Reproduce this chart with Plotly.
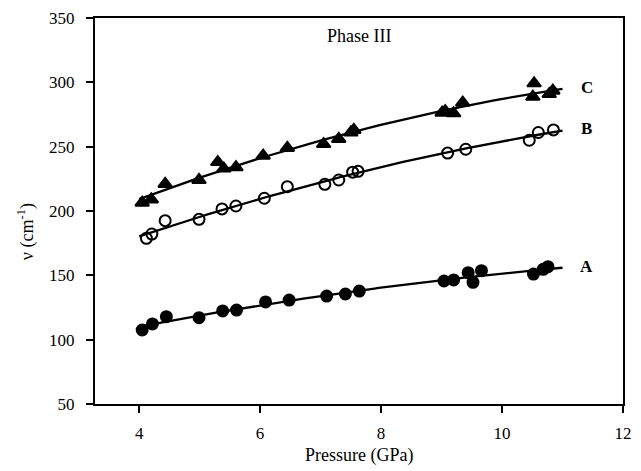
import numpy as np
import plotly.graph_objects as go

# Series A (filled circles)
a_x = [4.05, 4.22, 4.45, 4.99, 5.38, 5.61, 6.09, 6.48, 7.10, 7.41, 7.64,
       9.04, 9.20, 9.44, 9.52, 9.66, 10.52, 10.68, 10.76]
a_y = [107.5, 112.2, 117.9, 117.1, 122.3, 123.0, 129.3, 130.8, 133.9, 135.5, 137.8,
       145.6, 146.4, 152.1, 144.6, 153.6, 151.0, 154.7, 156.7]

# Series B (open circles)
b_x = [4.12, 4.21, 4.43, 4.99, 5.37, 5.60, 6.07, 6.45, 7.07, 7.30, 7.53, 7.62,
       9.10, 9.40, 10.45, 10.60, 10.85]
b_y = [178.8, 182.1, 192.5, 193.5, 201.6, 203.9, 209.9, 218.9, 220.7, 224.1, 230.2, 230.8,
       245.0, 248.0, 255.0, 261.0, 263.0]

# Series C (filled triangles)
c_x = [4.05, 4.20, 4.43, 4.99, 5.30, 5.40, 5.60, 6.05, 6.45, 7.05, 7.30, 7.50, 7.55,
       9.01, 9.06, 9.20, 9.35, 10.51, 10.53, 10.78, 10.84]
c_y = [206.5, 209.0, 221.0, 224.1, 238.0, 233.0, 234.0, 243.0, 249.0, 252.0, 256.0, 261.0, 263.0,
       276.4, 277.7, 275.9, 284.2, 288.8, 299.2, 290.9, 293.5]

series_labels = ["A", "B", "C"]
label_x = [11.4, 11.4, 11.4]
label_y = [157, 264, 296]

x_ticks = [4, 6, 8, 10, 12]
y_ticks = [50, 100, 150, 200, 250, 300, 350]

FONT = "Liberation Serif"

fig = go.Figure()

fit_x = np.linspace(4.0, 11.0, 100)
for xs, ys, sym in [(a_x, a_y, "circle"),
                    (b_x, b_y, "circle-open"),
                    (c_x, c_y, "triangle-up")]:
    coef = np.polyfit(xs, ys, 2)
    fig.add_trace(go.Scatter(x=fit_x, y=np.polyval(coef, fit_x), mode="lines",
                             line=dict(color="black", width=2.3), showlegend=False,
                             hoverinfo="skip"))
    fig.add_trace(go.Scatter(x=xs, y=ys, mode="markers", showlegend=False,
                             marker=dict(symbol=sym, size=11 if sym != "triangle-up" else 12,
                                         color="black",
                                         line=dict(color="black", width=2))))

for lab, lx, ly in zip(series_labels, label_x, label_y):
    fig.add_annotation(x=lx, y=ly, text="<b>%s</b>" % lab, showarrow=False,
                       font=dict(family=FONT, size=17, color="black"))

fig.add_annotation(x=7.63, y=336, text="Phase III", showarrow=False,
                   font=dict(family=FONT, size=18, color="black"))

# axis titles
fig.add_annotation(xref="paper", yref="paper", x=0.5, y=-(455 - 404) / 386,
                   xanchor="center", yanchor="middle", text="Pressure (GPa)",
                   showarrow=False, font=dict(family=FONT, size=18, color="black"))
fig.add_annotation(xref="paper", yref="paper", x=-(95 - 25) / 537, y=(404 - 232) / 386,
                   xanchor="center", yanchor="middle", text="ν (cm<sup>-1</sup>)",
                   textangle=-90, showarrow=False,
                   font=dict(family=FONT, size=18, color="black"))

fig.update_layout(
    width=641, height=471,
    margin=dict(l=95, r=9, t=18, b=67),
    paper_bgcolor="white", plot_bgcolor="white",
    font=dict(family=FONT, size=17, color="black"),
)
fig.update_xaxes(range=[3.27, 12], tickvals=x_ticks, ticks="outside", ticklen=7,
                 tickwidth=2, tickcolor="black", showline=True, linewidth=2,
                 linecolor="black", mirror=True, showgrid=False, zeroline=False,
                 ticklabelstandoff=6,
                 tickfont=dict(family=FONT, size=17))
fig.update_yaxes(range=[50, 350], tickvals=y_ticks, ticks="outside", ticklen=7,
                 tickwidth=2, tickcolor="black", showline=True, linewidth=2,
                 linecolor="black", mirror=True, showgrid=False, zeroline=False,
                 ticklabelstandoff=8,
                 tickfont=dict(family=FONT, size=17))

fig.write_html("out.html", config={"displayModeBar": False},
               post_script="document.body.style.margin='0';document.body.style.overflow='hidden';")
